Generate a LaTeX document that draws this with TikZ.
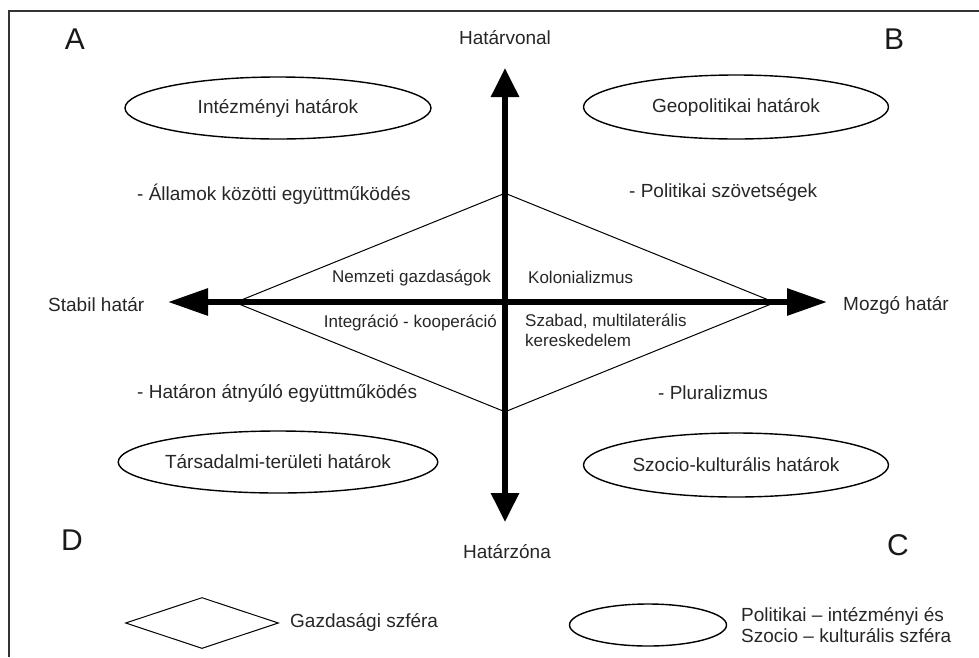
\documentclass[tikz,border=0pt]{standalone}
\usepackage{fontspec}
\setmainfont{Liberation Sans}
\usetikzlibrary{arrows.meta,shapes.geometric}
\begin{document}
\begin{tikzpicture}[x=1pt,y=-1pt,
  big/.style={font=\fontsize{19}{21}\selectfont, inner sep=0pt, text=black!85},
  small/.style={font=\fontsize{17}{20}\selectfont, inner sep=0pt, text=black!85},
  corner/.style={font=\fontsize{30}{34}\selectfont, inner sep=0pt, text=black!90},
  oval/.style={draw, ellipse, line width=1.4pt, inner sep=0pt, font=\fontsize{19}{21}\selectfont, text=black!85},
  rhomb/.style={draw, diamond, line width=1pt, inner sep=0pt},
  axisH/.style={line width=6pt, -{Triangle[length=40pt,width=26pt]}},
  axisV/.style={line width=6pt, -{Triangle[length=29pt,width=27pt]}},
  frame/.style={line width=1.5pt, draw=black!80}]
\useasboundingbox (0,0) rectangle (979,657);
% frame (top and left edges only)
\coordinate (fTL) at (9,11);
\coordinate (fTR) at (979,11);
\coordinate (fBL) at (9,657);
\draw[frame] (fTR) -- (fTL) -- (fBL);
% corner letters
\node[corner] (A) at (75,39) {A};
\node[corner] (B) at (894,39) {B};
\node[corner] (D) at (72,540) {D};
\node[corner] (C) at (898,545) {C};
% central diamond
\node[rhomb, minimum width=540pt, minimum height=219pt] (dia) at (505,302.5) {};
% axes
\coordinate (O) at (505,302);
\coordinate (top) at (505,68);
\coordinate (bot) at (505,522);
\coordinate (lft) at (168,302);
\coordinate (rgt) at (827,302);
\draw[axisV] (O) -- (top);
\draw[axisV] (O) -- (bot);
\draw[axisH] (O) -- (lft);
\draw[axisH] (O) -- (rgt);
% axis labels
\node[big] (hv) at (505,38) {Határvonal};
\node[big] (hz) at (507,552) {Határzóna};
\node[big, anchor=west] (stab) at (48,305) {Stabil határ};
\node[big, anchor=west] (mozg) at (843,305) {Mozgó határ};
% ellipses
\node[oval, minimum width=306pt, minimum height=62pt] (e1) at (278,108) {Intézményi határok};
\node[oval, minimum width=305pt, minimum height=64pt] (e2) at (736,107) {Geopolitikai határok};
\node[oval, minimum width=306pt, minimum height=62pt] (e3) at (278,462) {Társadalmi-területi határok};
\node[oval, minimum width=305pt, minimum height=64pt] (e4) at (736,465) {Szocio-kulturális határok};
% quadrant texts
\node[big, anchor=west] (t1) at (137,194) {- Államok közötti együttműködés};
\node[big, anchor=west] (t2) at (629,192) {- Politikai szövetségek};
\node[big, anchor=west] (t3) at (137,393) {- Határon átnyúló együttműködés};
\node[big, anchor=west] (t4) at (658,393) {- Pluralizmus};
% inner texts
\node[small, anchor=east] (n1) at (491,278) {Nemzeti gazdaságok};
\node[small, anchor=west] (n2) at (528,277) {Kolonializmus};
\node[small, anchor=east] (n3) at (497,323) {Integráció - kooperáció};
\node[small, anchor=west, align=left] (n4) at (525,330) {Szabad, multilaterális\\kereskedelem};
% legend
\node[rhomb, minimum width=153pt, minimum height=51pt] (ld) at (202,623) {};
\node[big, anchor=west] (ldt) at (290,622) {Gazdasági szféra};
\node[oval, minimum width=157pt, minimum height=42pt] (le) at (648,625) {};
\node[big, anchor=west, align=left] (let) at (741,625) {Politikai – intézményi és\\Szocio – kulturális szféra};
\end{tikzpicture}
\end{document}
